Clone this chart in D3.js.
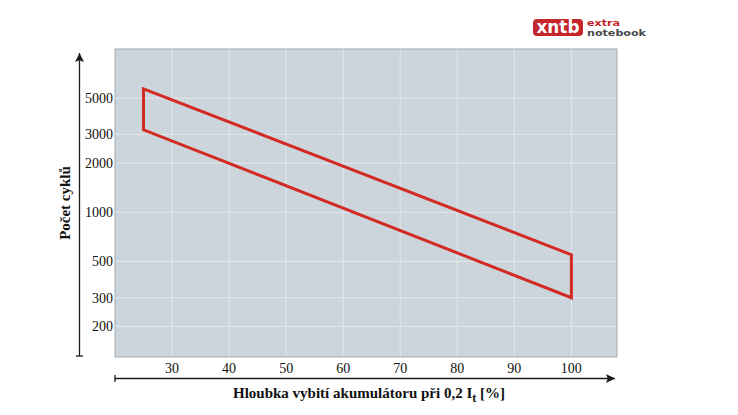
<!DOCTYPE html>
<html>
<head>
<meta charset="utf-8">
<script src="https://cdnjs.cloudflare.com/ajax/libs/d3/7.8.5/d3.min.js"></script>
<style>
  body { margin: 0; background: #fff; }
  svg text { font-family: "Liberation Serif", "Times New Roman", serif; }
</style>
</head>
<body>
<div id="chart"></div>
<script>
// depth of discharge [%] at the band corners
var depth = [25, 100, 100, 25];
// cycle count at the corners (upper edge, then lower edge going back)
var cycles = [5700, 550, 300, 3200];
var xTicks = [30, 40, 50, 60, 70, 80, 90, 100];
var yTicks = [200, 300, 500, 1000, 2000, 3000, 5000];

var width = 738, height = 415;
var margin = {top: 49, right: 121, bottom: 58, left: 115};
var w = width - margin.left - margin.right,
    h = height - margin.top - margin.bottom;

var svg = d3.select("#chart").append("svg")
    .attr("width", width)
    .attr("height", height);

var g = svg.append("g")
    .attr("transform", "translate(" + margin.left + "," + margin.top + ")");

var x = d3.scaleLinear().domain([20, 108]).range([0, w]);
var y = d3.scaleLog().domain([130, 10000]).range([h, 0]);

// plot background
g.append("rect")
    .attr("width", w)
    .attr("height", h)
    .attr("fill", "#ccd5dc")
    .attr("stroke", "#a3a8ad")
    .attr("stroke-width", 1);

// grid
g.append("g").selectAll("line")
    .data(xTicks)
    .enter().append("line")
    .attr("x1", function(d) { return x(d); })
    .attr("x2", function(d) { return x(d); })
    .attr("y1", 0.5)
    .attr("y2", h - 0.5)
    .attr("stroke", "#e3e8ec")
    .attr("stroke-width", 1);

g.append("g").selectAll("line")
    .data(yTicks)
    .enter().append("line")
    .attr("x1", 0.5)
    .attr("x2", w - 0.5)
    .attr("y1", function(d) { return y(d); })
    .attr("y2", function(d) { return y(d); })
    .attr("stroke", "#e3e8ec")
    .attr("stroke-width", 1);

// the band
var pts = depth.map(function(d, i) { return [x(d), y(cycles[i])]; });
g.append("path")
    .attr("d", d3.line()(pts) + "Z")
    .attr("fill", "none")
    .attr("stroke", "#d22b24")
    .attr("stroke-width", 3)
    .attr("stroke-linejoin", "miter");

// tick labels
g.append("g").selectAll("text")
    .data(yTicks)
    .enter().append("text")
    .attr("x", -2)
    .attr("y", function(d) { return y(d); })
    .attr("dy", "0.35em")
    .attr("text-anchor", "end")
    .attr("font-size", 14)
    .attr("fill", "#111")
    .text(function(d) { return d; });

g.append("g").selectAll("text")
    .data(xTicks)
    .enter().append("text")
    .attr("x", function(d) { return x(d); })
    .attr("y", h + 16)
    .attr("text-anchor", "middle")
    .attr("font-size", 14)
    .attr("fill", "#111")
    .text(function(d) { return d; });

// axis arrows
var defs = svg.append("defs");
defs.append("marker")
    .attr("id", "arr")
    .attr("viewBox", "0 0 10 10")
    .attr("refX", 10)
    .attr("refY", 5)
    .attr("markerWidth", 10)
    .attr("markerHeight", 9)
    .attr("markerUnits", "userSpaceOnUse")
    .attr("orient", "auto")
    .append("path")
    .attr("d", "M0,0L10,5L0,10L2,5Z")
    .attr("fill", "#1a1a1a");

var ax = 79.5, ay = 378.5;
svg.append("line")
    .attr("x1", ax).attr("y1", margin.top + h - 1)
    .attr("x2", ax).attr("y2", 53)
    .attr("stroke", "#1a1a1a")
    .attr("stroke-width", 1.3)
    .attr("marker-end", "url(#arr)");
svg.append("line")
    .attr("x1", ax - 3.5).attr("x2", ax + 3.5)
    .attr("y1", margin.top + h - 1).attr("y2", margin.top + h - 1)
    .attr("stroke", "#1a1a1a")
    .attr("stroke-width", 1.3);

svg.append("line")
    .attr("x1", margin.left).attr("y1", ay)
    .attr("x2", 615).attr("y2", ay)
    .attr("stroke", "#1a1a1a")
    .attr("stroke-width", 1.3)
    .attr("marker-end", "url(#arr)");
svg.append("line")
    .attr("x1", margin.left).attr("x2", margin.left)
    .attr("y1", ay - 3.5).attr("y2", ay + 3.5)
    .attr("stroke", "#1a1a1a")
    .attr("stroke-width", 1.3);

// axis titles
svg.append("text")
    .attr("transform", "translate(70," + (margin.top + 154) + ") rotate(-90)")
    .attr("text-anchor", "middle")
    .attr("font-size", 15)
    .attr("font-weight", "bold")
    .attr("fill", "#111")
    .text("Počet cyklů");

var xt = svg.append("text")
    .attr("x", 369)
    .attr("y", 398)
    .attr("text-anchor", "middle")
    .attr("font-size", 15)
    .attr("font-weight", "bold")
    .attr("fill", "#111");
xt.append("tspan").text("Hloubka vybití akumulátoru při 0,2 I");
xt.append("tspan").attr("dy", 4).attr("font-size", 12).text("t");
xt.append("tspan").attr("dy", -4).text(" [%]");

// logo
var logoFont = "'Liberation Sans Narrow', 'DejaVu Sans Condensed', sans-serif";
var logo = svg.append("g").attr("transform", "translate(533,19)");
logo.append("rect")
    .attr("width", 50)
    .attr("height", 17)
    .attr("rx", 4)
    .attr("fill", "#c4262c");
logo.append("text")
    .attr("x", 25)
    .attr("y", 14)
    .attr("text-anchor", "middle")
    .attr("font-size", 18)
    .attr("font-weight", "bold")
    .attr("fill", "#fff")
    .attr("textLength", 43)
    .attr("lengthAdjust", "spacingAndGlyphs")
    .style("font-family", logoFont)
    .text("xntb");
logo.append("text")
    .attr("x", 54)
    .attr("y", 7)
    .attr("font-size", 8.5)
    .attr("font-weight", "bold")
    .attr("fill", "#c4262c")
    .attr("textLength", 33)
    .attr("lengthAdjust", "spacingAndGlyphs")
    .style("font-family", logoFont)
    .text("extra");
logo.append("text")
    .attr("x", 54)
    .attr("y", 17)
    .attr("font-size", 8.5)
    .attr("font-weight", "bold")
    .attr("fill", "#4a4a4a")
    .attr("textLength", 59)
    .attr("lengthAdjust", "spacingAndGlyphs")
    .style("font-family", logoFont)
    .text("notebook");
</script>
</body>
</html>
